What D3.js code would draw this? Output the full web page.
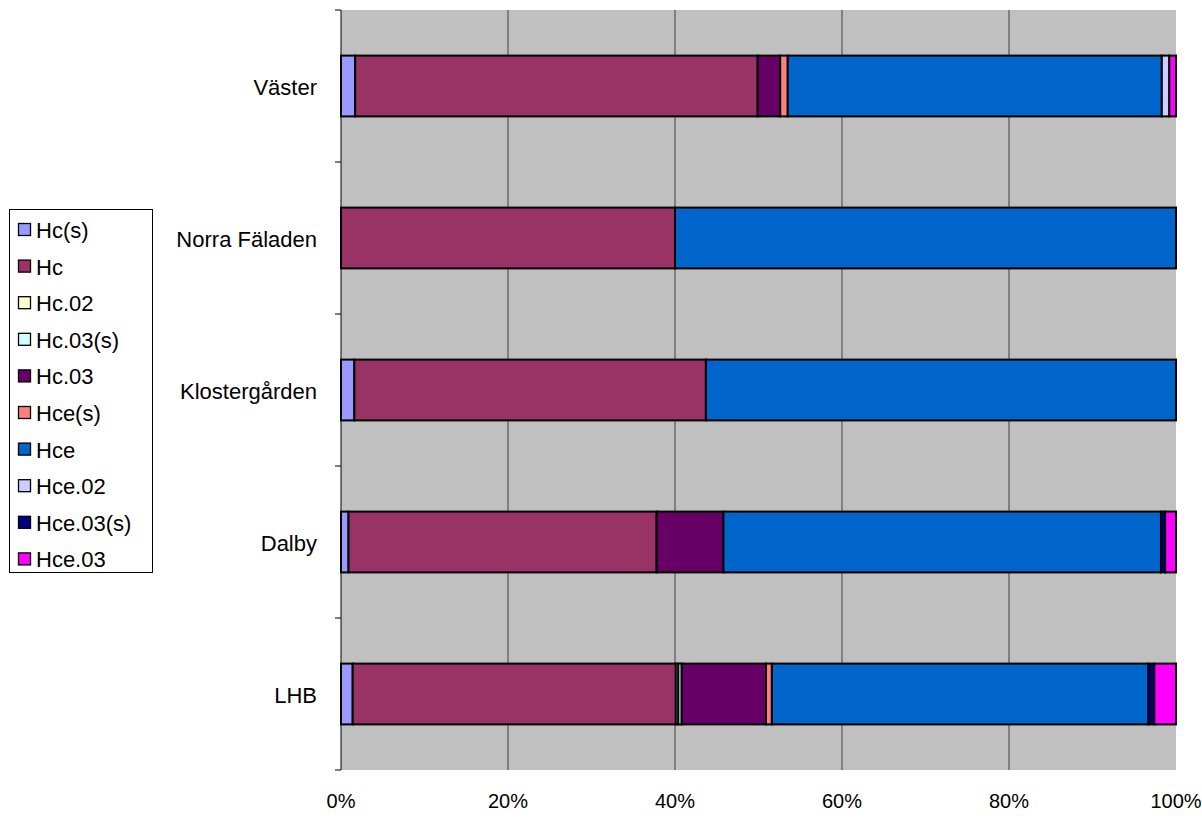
<!DOCTYPE html>
<html><head><meta charset="utf-8">
<script src="https://cdn.jsdelivr.net/npm/d3@7"></script>
<style>body{margin:0;background:#fff;}svg{display:block;font-family:"Liberation Sans",Arial,sans-serif;}</style>
</head><body><svg id="c" width="1202" height="820"></svg>
<script>
const categories = ["Väster","Norra Fäladen","Klostergården","Dalby","LHB"];
const seriesNames = ["Hc(s)","Hc","Hc.02","Hc.03(s)","Hc.03","Hce(s)","Hce","Hce.02","Hce.03(s)","Hce.03"];
const colors = ["#9999ff","#993366","#ffffcc","#ccffff","#660066","#ff8080","#0066cc","#ccccff","#000080","#ff00ff"];
// percent values per category, in series order
const vVaster = [1.7,48.2,0,0,2.7,0.9,44.8,0.9,0,0.8];
const vNorra = [0,40.0,0,0,0,0,60.0,0,0,0];
const vKloster = [1.6,42.1,0,0,0,0,56.3,0,0,0];
const vDalby = [0.9,36.9,0,0,8.0,0,52.4,0,0.5,1.3];
const vLHB = [1.4,38.7,0.3,0.4,10.1,0.7,45.1,0,0.7,2.6];
const values = [vVaster,vNorra,vKloster,vDalby,vLHB];
const xTicks = [0,20,40,60,80,100];

const svg = d3.select("#c");
const L=341,R=1176,T=10,B=770;
const x = d3.scaleLinear().domain([0,100]).range([L,R]);
const y = d3.scaleBand().domain(categories).range([T,B]).paddingInner(0.6).paddingOuter(0.3);
const yb = d3.scaleBand().domain(categories).range([T,B]);

svg.append("rect").attr("x",L).attr("y",T).attr("width",R-L).attr("height",B-T).attr("fill","#c0c0c0");
// gridlines
svg.append("g").selectAll("line").data(xTicks.slice(1,-1)).join("line")
  .attr("x1",d=>x(d)).attr("x2",d=>x(d)).attr("y1",T).attr("y2",B)
  .attr("stroke","#555").attr("stroke-width",1.2);

// bars
categories.forEach((c,i)=>{
  const tot = d3.sum(values[i]);
  let cum=0;
  values[i].forEach((v,j)=>{
    if(v>0){
      const a=cum/tot*100, b=(cum+v)/tot*100;
      svg.append("rect").attr("x",x(a)).attr("y",y(c)).attr("width",x(b)-x(a)).attr("height",y.bandwidth())
        .attr("fill",colors[j]).attr("stroke","#000").attr("stroke-width",2);
    }
    cum+=v;
  });
});

// left axis
const ya = svg.append("g").attr("transform",`translate(${L},0)`);
ya.append("line").attr("x1",0).attr("x2",0).attr("y1",T).attr("y2",B).attr("stroke","#000").attr("stroke-width",1);
const bounds = categories.map(c=>yb(c)).concat([B]);
ya.selectAll("line.t").data(bounds).join("line").attr("class","t")
  .attr("x1",-6).attr("x2",0).attr("y1",d=>d).attr("y2",d=>d).attr("stroke","#000");
ya.selectAll("text").data(categories).join("text")
  .attr("x",-24).attr("y",d=>yb(d)+yb.bandwidth()/2+1).attr("dy","0.35em")
  .attr("text-anchor","end").attr("font-size",22).text(d=>d);

// bottom labels
svg.append("g").selectAll("text").data(xTicks).join("text")
  .attr("x",d=>x(d)).attr("y",B+38).attr("text-anchor","middle").attr("font-size",20).text(d=>d+"%");

// legend
const lg = svg.append("g");
lg.append("rect").attr("x",9.5).attr("y",209.5).attr("width",143).attr("height",363).attr("fill","#fff").attr("stroke","#000");
seriesNames.forEach((s,i)=>{
  const yy = 230 + i*36.6;
  lg.append("rect").attr("x",18.5).attr("y",yy-6.5).attr("width",12).attr("height",12).attr("fill",colors[i]).attr("stroke","#000").attr("stroke-width",1.3);
  lg.append("text").attr("x",36).attr("y",yy).attr("dy","0.36em").attr("font-size",22).text(s);
});
</script></body></html>
